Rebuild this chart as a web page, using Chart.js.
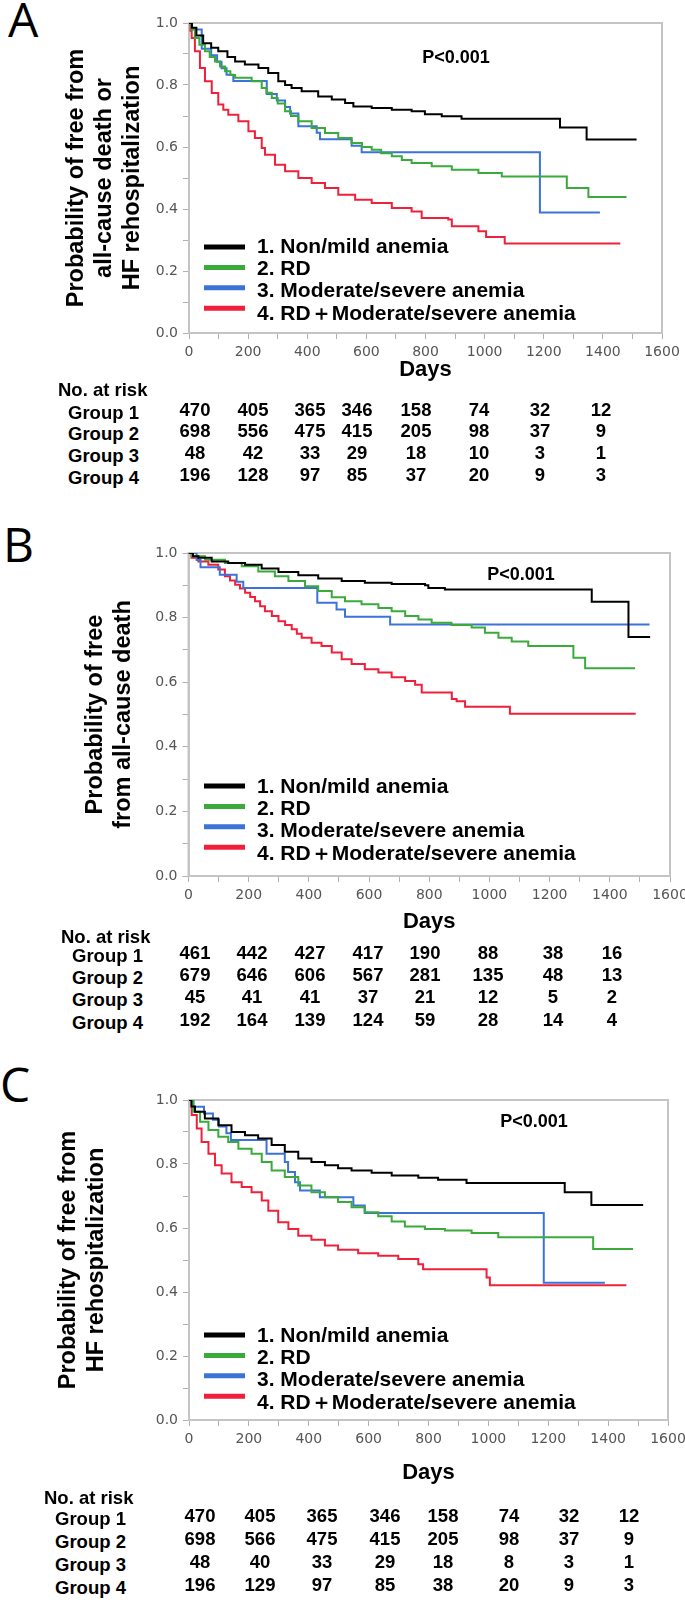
<!DOCTYPE html>
<html>
<head>
<meta charset="utf-8">
<script src="https://cdn.jsdelivr.net/npm/chart.js@4.4.1/dist/chart.umd.min.js"></script>
<style>
  body { margin: 0; background: #fff; }
  #page { position: relative; width: 685px; height: 1602px; overflow: hidden; }
  canvas { position: absolute; left: 0; }
  .letter { position: absolute; font-family: "Open Sans", sans-serif; font-size: 48px; line-height: 48px; color: #000; }
  .cell { position: absolute; font-family: "Liberation Sans", Arial, sans-serif; font-weight: bold; font-size: 18.5px; line-height: 20px; color: #000; white-space: nowrap; }
  .num { width: 60px; text-align: center; }
</style>
</head>
<body>
<div id="page"></div>
<script>
const GROUP_NAMES = [
  "1. Non/mild anemia",
  "2. RD",
  "3. Moderate/severe anemia",
  "4. RD\uFF0BModerate/severe anemia",
];
const GROUP_LABELS = ["Group 1", "Group 2", "Group 3", "Group 4"];
const GROUP_COLOURS = ["#000000", "#3aaa3a", "#3b73d9", "#f0203a"];

// [days, probability]
const A_G1 = [[0,1],[10,0.985],[25,0.96],[48,0.935],[75,0.92],[99,0.909],[130,0.89],[156,0.876],[189,0.866],[235,0.855],[268,0.839],[302,0.812],[325,0.8],[347,0.79],[381,0.78],[437,0.763],[483,0.753],[528,0.742],[556,0.731],[618,0.726],[686,0.72],[753,0.715],[798,0.706],[855,0.699],[922,0.691],[1255,0.663],[1345,0.624],[1514,0.624]];
const A_G2 = [[0,1],[8,0.98],[20,0.952],[35,0.93],[54,0.909],[70,0.89],[88,0.876],[105,0.86],[122,0.844],[140,0.832],[156,0.823],[212,0.812],[246,0.79],[262,0.775],[280,0.758],[300,0.74],[325,0.715],[345,0.7],[370,0.683],[415,0.661],[460,0.645],[505,0.629],[550,0.613],[585,0.6],[618,0.591],[650,0.58],[686,0.57],[720,0.558],[753,0.548],[821,0.538],[889,0.527],[979,0.516],[1058,0.505],[1278,0.468],[1351,0.439],[1480,0.439]];
const A_G3 = [[0,1],[10,0.979],[43,0.917],[75,0.896],[95,0.875],[110,0.854],[127,0.833],[150,0.813],[263,0.771],[297,0.75],[325,0.729],[342,0.708],[370,0.667],[432,0.646],[443,0.625],[550,0.604],[584,0.583],[1187,0.389],[1390,0.389]];
const A_G4 = [[0,1],[5,0.975],[9,0.952],[20,0.909],[37,0.855],[54,0.812],[77,0.774],[99,0.737],[116,0.72],[133,0.704],[167,0.683],[201,0.651],[223,0.629],[246,0.597],[257,0.575],[291,0.543],[325,0.522],[370,0.5],[415,0.484],[460,0.468],[505,0.446],[562,0.43],[618,0.419],[686,0.403],[753,0.392],[787,0.371],[877,0.366],[889,0.344],[979,0.328],[1005,0.31],[1068,0.289],[1459,0.289]];

// panel B
const B_G1 = [[0,1],[15,0.99],[33,0.985],[77,0.974],[132,0.969],[188,0.964],[243,0.952],[299,0.941],[365,0.931],[431,0.921],[509,0.913],[586,0.908],[675,0.904],[786,0.9],[797,0.892],[852,0.887],[1340,0.849],[1462,0.74],[1534,0.74]];
const B_G2 = [[0,1],[10,0.99],[55,0.979],[121,0.969],[177,0.959],[232,0.943],[287,0.928],[332,0.913],[387,0.897],[431,0.882],[476,0.863],[520,0.851],[575,0.841],[631,0.83],[675,0.82],[720,0.805],[764,0.794],[808,0.784],[874,0.777],[941,0.769],[985,0.753],[1030,0.738],[1074,0.726],[1129,0.712],[1279,0.676],[1318,0.643],[1484,0.643]];
const B_G3 = [[0,1],[27,0.978],[40,0.956],[104,0.933],[160,0.911],[182,0.892],[428,0.846],[492,0.825],[520,0.803],[670,0.779],[1532,0.779]];
const B_G4 = [[0,1],[10,0.985],[33,0.974],[66,0.964],[99,0.949],[121,0.928],[138,0.915],[155,0.902],[171,0.89],[188,0.877],[205,0.864],[221,0.851],[238,0.835],[254,0.82],[277,0.805],[299,0.789],[321,0.777],[343,0.764],[360,0.75],[376,0.738],[409,0.722],[442,0.712],[476,0.692],[509,0.671],[542,0.656],[586,0.64],[631,0.63],[675,0.615],[720,0.604],[753,0.592],[775,0.568],[875,0.548],[891,0.541],[919,0.524],[1068,0.502],[1486,0.502]];

// panel C
const C_G1 = [[0,1],[8,0.98],[20,0.963],[53,0.942],[98,0.921],[142,0.9],[187,0.89],[231,0.88],[276,0.859],[320,0.838],[365,0.817],[409,0.806],[454,0.796],[498,0.787],[543,0.78],[610,0.773],[677,0.764],[766,0.757],[832,0.751],[927,0.741],[1255,0.712],[1344,0.672],[1517,0.672]];
const C_G2 = [[0,1],[14,0.963],[37,0.932],[65,0.906],[98,0.885],[131,0.869],[165,0.848],[209,0.832],[243,0.806],[276,0.78],[320,0.759],[365,0.733],[409,0.712],[454,0.696],[498,0.681],[543,0.665],[587,0.649],[632,0.637],[677,0.62],[721,0.605],[788,0.597],[855,0.592],[944,0.584],[1033,0.571],[1350,0.534],[1483,0.534]];
const C_G3 = [[0,1],[15,0.979],[50,0.958],[80,0.938],[100,0.917],[125,0.896],[140,0.875],[259,0.832],[320,0.806],[331,0.775],[354,0.743],[371,0.717],[437,0.696],[549,0.67],[587,0.647],[1185,0.429],[1389,0.429]];
const C_G4 = [[0,1],[9,0.953],[26,0.911],[42,0.869],[65,0.832],[87,0.796],[109,0.77],[142,0.743],[176,0.728],[209,0.712],[243,0.686],[265,0.654],[298,0.618],[332,0.597],[365,0.576],[409,0.563],[454,0.545],[498,0.532],[565,0.521],[632,0.513],[699,0.503],[766,0.487],[782,0.471],[994,0.445],[1005,0.421],[1461,0.421]];

// number at risk, days 0..1400
const A_RISK = [[470,405,365,346,158,74,32,12],[698,556,475,415,205,98,37,9],[48,42,33,29,18,10,3,1],[196,128,97,85,37,20,9,3]];
const B_RISK = [[461,442,427,417,190,88,38,16],[679,646,606,567,281,135,48,13],[45,41,41,37,21,12,5,2],[192,164,139,124,59,28,14,4]];
const C_RISK = [[470,405,365,346,158,74,32,12],[698,566,475,415,205,98,37,9],[48,40,33,29,18,8,3,1],[196,129,97,85,38,20,9,3]];

const A_YTITLE = ["Probability of free from", "all-cause death or", "HF rehospitalization"];
const B_YTITLE = ["Probability of free", "from all-cause death"];
const C_YTITLE = ["Probability of free from", "HF rehospitalization"];
const P_TEXT = "P<0.001";

const panels = [
  {
    letter: "A", letterPos: [8, -5], top: 0, height: 386, padRight: 23, yWidth: 139, xHeight: 53, titlePad: 12,
    series: [A_G1, A_G2, A_G3, A_G4], yTitle: A_YTITLE, legendLineY: 247, legendTextY: 247, p: [456, 58],
    risk: A_RISK, riskHead: [58, 390], groupX: 68, rows: [410, 431, 453, 475], cols: [195, 253, 310, 357, 416, 479, 540, 601],
  },
  {
    letter: "B", letterPos: [3, 520], top: 530, height: 408, padRight: 15, yWidth: 138.5, xHeight: 62, titlePad: 31,
    series: [B_G1, B_G2, B_G3, B_G4], yTitle: B_YTITLE, legendLineY: 256, legendTextY: 257, p: [521, 45],
    risk: B_RISK, riskHead: [61, 937], groupX: 72, rows: [953, 975, 997, 1020], cols: [195, 252, 310, 368, 425, 488, 553, 612],
  },
  {
    letter: "C", letterPos: [0, 1060], top: 1077, height: 412, padRight: 17, yWidth: 139, xHeight: 69, titlePad: 4,
    series: [C_G1, C_G2, C_G3, C_G4], yTitle: C_YTITLE, legendLineY: 258, legendTextY: 259, p: [534, 45],
    risk: C_RISK, riskHead: [44, 1498], groupX: 55, rows: [1516, 1539, 1562, 1585], cols: [200, 260, 322, 385, 443, 509, 569, 629],
  },
];

const TICK_FONT = { family: "'DejaVu Sans', sans-serif", size: 14 };
const BOLD = "'Liberation Sans', Arial, sans-serif";
const AXIS_GREY = "#c4c4c4";

// frame round the plot, legend inside it and the p value
const kmDecor = {
  id: "kmDecor",
  beforeDatasetsDraw(chart) {
    const { ctx, chartArea: a } = chart;
    ctx.save();
    ctx.strokeStyle = AXIS_GREY;
    ctx.lineWidth = 2;
    ctx.strokeRect(a.left, a.top, a.right - a.left, a.bottom - a.top);
    ctx.restore();
  },
  afterDatasetsDraw(chart, args, opts) {
    const ctx = chart.ctx;
    ctx.save();
    ctx.textBaseline = "middle";
    chart.data.datasets.forEach((ds, i) => {
      const ly = opts.lineY + i * 20.4;
      ctx.strokeStyle = ds.borderColor;
      ctx.lineWidth = 5;
      ctx.beginPath();
      ctx.moveTo(204, ly);
      ctx.lineTo(245, ly);
      ctx.stroke();
      ctx.fillStyle = "#000";
      ctx.font = "bold 21px " + BOLD;
      ctx.textAlign = "left";
      ctx.fillText(ds.label, 257, opts.textY + i * 22.3);
    });
    ctx.font = "bold 18px " + BOLD;
    ctx.textAlign = "center";
    ctx.fillText(P_TEXT, opts.pX, opts.pY);
    ctx.restore();
  },
};

function datasetConfiguration(label, data, colour) {
  return {
    label: label,
    data: data,
    borderColor: colour,
    backgroundColor: colour,
    borderWidth: 2,
    pointRadius: 0,
    stepped: true,
    fill: false,
  };
}

function chartConfiguration(panel) {
  return {
    type: "line",
    data: {
      datasets: panel.series.map((s, i) => datasetConfiguration(GROUP_NAMES[i], s, GROUP_COLOURS[i])),
    },
    options: {
      responsive: false,
      animation: false,
      events: [],
      layout: { padding: { top: 23, right: panel.padRight, bottom: 0, left: 50 } },
      scales: {
        x: {
          type: "linear",
          min: 0,
          max: 1600,
          afterFit: (s) => { s.height = panel.xHeight; s.paddingLeft = 0; s.paddingRight = 0; },
          border: { color: AXIS_GREY, width: 2 },
          grid: { drawOnChartArea: false, tickLength: 6, color: "#b0b0b0" },
          ticks: {
            stepSize: 100,
            autoSkip: false,
            maxRotation: 0,
            padding: 5,
            color: "#555",
            font: TICK_FONT,
            callback: (v) => (v % 200 === 0 ? String(v) : ""),
          },
          title: {
            display: true,
            text: "Days",
            color: "#000",
            font: { family: BOLD, size: 22, weight: "bold" },
            padding: { top: 0, bottom: 3 },
          },
        },
        y: {
          min: 0,
          max: 1,
          afterFit: (s) => { s.width = panel.yWidth; s.paddingTop = 0; s.paddingBottom = 0; },
          border: { color: AXIS_GREY, width: 2 },
          grid: { drawOnChartArea: false, tickLength: 6, color: "#b0b0b0" },
          ticks: {
            stepSize: 0.1,
            autoSkip: false,
            padding: 5,
            color: "#555",
            font: TICK_FONT,
            callback: (v) => (Math.round(v * 10) % 2 === 0 ? v.toFixed(1) : ""),
          },
          title: {
            display: true,
            text: panel.yTitle,
            color: "#000",
            font: { family: BOLD, size: 23.5, weight: "bold", lineHeight: 1.2 },
            padding: { top: panel.titlePad, bottom: 0 },
          },
        },
      },
      plugins: {
        legend: { display: false },
        tooltip: { enabled: false },
        kmDecor: {
          lineY: panel.legendLineY,
          textY: panel.legendTextY,
          pX: panel.p[0],
          pY: panel.p[1],
        },
      },
    },
    plugins: [kmDecor],
  };
}

function addText(page, cls, text, left, top) {
  const d = document.createElement("div");
  d.className = cls;
  d.textContent = text;
  d.style.left = left + "px";
  d.style.top = top + "px";
  page.appendChild(d);
  return d;
}

function drawRiskTable(page, panel) {
  addText(page, "cell", "No. at risk", panel.riskHead[0], panel.riskHead[1] - 10);
  panel.risk.forEach((row, r) => {
    addText(page, "cell", GROUP_LABELS[r], panel.groupX, panel.rows[r] - 7);
    row.forEach((n, c) => {
      addText(page, "cell num", String(n), panel.cols[c] - 30, panel.rows[r] - 10);
    });
  });
}

const page = document.getElementById("page");
panels.forEach((panel) => {
  addText(page, "letter", panel.letter, panel.letterPos[0], panel.letterPos[1]);
  const canvas = document.createElement("canvas");
  canvas.width = 685;
  canvas.height = panel.height;
  canvas.style.top = panel.top + "px";
  page.appendChild(canvas);
  new Chart(canvas.getContext("2d"), chartConfiguration(panel));
  drawRiskTable(page, panel);
});
</script>
</body>
</html>
